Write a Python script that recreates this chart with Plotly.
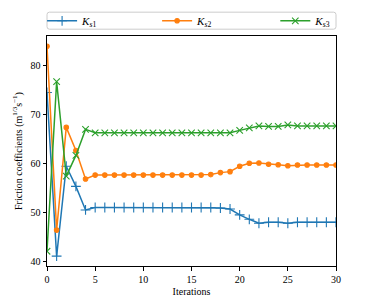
import plotly.graph_objects as go

iterations = list(range(31))
ks1 = [74.4, 41.1, 59.4, 55.3, 50.5, 51.0, 51.0, 51.0, 51.0, 51.0, 51.0, 51.0, 51.0, 51.0, 51.0, 51.0,
       51.0, 51.0, 50.9, 50.7, 49.5, 48.6, 47.8, 48.0, 48.0, 47.8, 48.0, 48.0, 48.0, 48.0, 48.0]
ks2 = [83.8, 46.4, 67.3, 62.6, 56.8, 57.6, 57.6, 57.6, 57.6, 57.6, 57.6, 57.6, 57.6, 57.6, 57.6, 57.6,
       57.6, 57.7, 58.1, 58.3, 59.4, 60.0, 60.05, 59.8, 59.7, 59.5, 59.65, 59.65, 59.65, 59.65, 59.65]
ks3 = [42.1, 76.6, 57.4, 61.6, 66.9, 66.2, 66.2, 66.2, 66.2, 66.2, 66.2, 66.2, 66.2, 66.2, 66.2, 66.2,
       66.2, 66.2, 66.2, 66.2, 66.7, 67.2, 67.6, 67.5, 67.5, 67.8, 67.6, 67.6, 67.6, 67.6, 67.6]
labels = ["<i>K</i><sub><i>s</i>1</sub>", "<i>K</i><sub><i>s</i>2</sub>", "<i>K</i><sub><i>s</i>3</sub>"]
colors = ["#1f77b4", "#ff7f0e", "#2ca02c"]
symbols = ["cross-thin", "circle", "x-thin"]
sizes = [7, 4.5, 6.5]
legend_ids = ["legend", "legend2", "legend3"]
legend_x = [-0.017, 0.381, 0.79]

W, H = 374, 299
ML, MR, MT, MB = 46.5, 37.5, 36, 33.3
PW, PH = W - ML - MR, H - MT - MB

fig = go.Figure()
for ys, name, c, s, sz, lg in zip([ks1, ks2, ks3], labels, colors, symbols, sizes, legend_ids):
    fig.add_trace(go.Scatter(
        x=iterations, y=ys, mode="lines+markers", name=name, legend=lg,
        line=dict(color=c, width=1.5),
        marker=dict(symbol=s, size=sz, color=c, line=dict(color=c, width=1.1)),
    ))

font = "Liberation Serif, DejaVu Serif, serif"
legend_common = dict(
    orientation="h", y=1 + 15.2 / PH, xanchor="left", yanchor="middle",
    borderwidth=0, bgcolor="rgba(0,0,0,0)",
    font=dict(family=font, size=11), itemwidth=30,
)
lay = {}
for lg, lx in zip(legend_ids, legend_x):
    lay[lg] = dict(legend_common, x=lx)

# rounded legend frame (paper coords)
y0, y1 = 1 + 6.8 / PH, 1 + 23.8 / PH
rx, ry = 2.5 / PW, 2.5 / PH
x0, x1 = 0.0, 1.0
path = (f"M {x0+rx},{y0} L {x1-rx},{y0} Q {x1},{y0} {x1},{y0+ry} L {x1},{y1-ry} Q {x1},{y1} {x1-rx},{y1} "
        f"L {x0+rx},{y1} Q {x0},{y1} {x0},{y1-ry} L {x0},{y0+ry} Q {x0},{y0} {x0+rx},{y0} Z")
fig.add_shape(type="path", path=path, xref="paper", yref="paper",
              line=dict(color="#cccccc", width=1), fillcolor="white", layer="below")

fig.update_layout(
    width=W, height=H,
    margin=dict(l=ML, r=MR, t=MT, b=MB, autoexpand=False),
    paper_bgcolor="white", plot_bgcolor="white",
    font=dict(family=font, size=10, color="black"),
    showlegend=True,
    xaxis=dict(
        range=[0, 30], tickvals=[0, 5, 10, 15, 20, 25, 30],
        showgrid=False, zeroline=False, automargin=False,
        showline=True, linecolor="black", linewidth=1, mirror=True,
        ticks="outside", ticklen=3.5, tickcolor="black",
        title=dict(text="Iterations", standoff=4, font=dict(size=10)),
    ),
    yaxis=dict(
        range=[39.1, 85.9], tickvals=[40, 50, 60, 70, 80],
        showgrid=False, zeroline=False, automargin=False,
        showline=True, linecolor="black", linewidth=1, mirror=True,
        ticks="outside", ticklen=3.5, tickcolor="black",
        title=dict(text="Friction coefficients (m<sup>1/3</sup>s<sup>−1</sup>)", standoff=6, font=dict(size=10)),
    ),
    **lay,
)

fig.write_html("out.html", config={"displayModeBar": False},
               post_script="document.body.style.margin='0';")
